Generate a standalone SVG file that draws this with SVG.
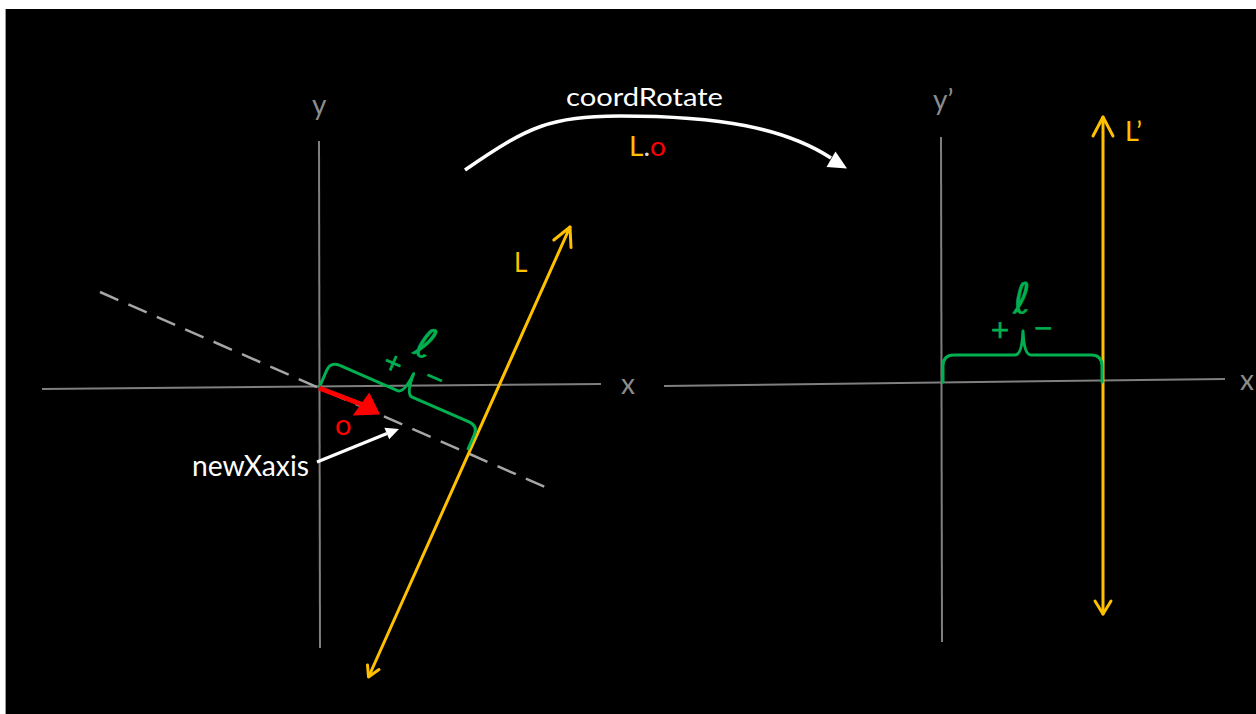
<svg xmlns="http://www.w3.org/2000/svg" width="1256" height="714" viewBox="0 0 1256 714">
<style>
.axis{stroke:#7f7f7f;stroke-width:2;fill:none}
.axlabel{fill:#8c8c8c;font-family:Lato,"Liberation Sans",sans-serif}
.lbl{font-family:Lato,"Liberation Sans",sans-serif}
.yel{stroke:#ffc000;stroke-width:3;fill:none;stroke-linecap:round;stroke-linejoin:round}
.grn{stroke:#00b050;stroke-width:3;fill:none;stroke-linecap:round;stroke-linejoin:round}
.gtxt{fill:#00b050;stroke:#00b050;stroke-width:0.7;font-family:"DejaVu Sans",sans-serif}
.ell{fill:#00b050;stroke:#00b050;stroke-width:0.5;font-family:"DejaVu Sans",sans-serif}
.wht{stroke:#ffffff;fill:none;stroke-linecap:butt}
</style>
<rect x="0" y="0" width="1256" height="714" fill="#ffffff"/>
<rect x="5" y="9" width="1251" height="705" fill="#000000"/>
<line x1="5.5" y1="9" x2="5.5" y2="714" stroke="#9a9a9a" stroke-width="1"/>

<g id="left-axes">
  <line class="axis" x1="319" y1="141" x2="320" y2="648"/>
  <line class="axis" x1="42" y1="389" x2="601" y2="384"/>
  <text class="axlabel" x="312" y="115" font-size="28">y</text>
  <text class="axlabel" x="621" y="394" font-size="28">x</text>
  <line x1="100" y1="292" x2="545" y2="487" stroke="#a6a6a6" stroke-width="2.5" stroke-dasharray="20 11"/>
</g>

<g id="right-axes">
  <line class="axis" x1="941" y1="137" x2="942" y2="642"/>
  <line class="axis" x1="664" y1="386" x2="1225" y2="379"/>
  <text class="axlabel" x="933" y="110" font-size="28">y’</text>
  <text class="axlabel" x="1240" y="390" font-size="28">x</text>
</g>

<g id="line-L">
  <line class="yel" x1="369" y1="676" x2="570" y2="227"/>
  <polyline class="yel" points="553.8,240 570,227 571,247.5"/>
  <polyline class="yel" points="379,669.5 368.5,677 367.5,665"/>
  <text class="lbl" x="514" y="272" font-size="26" fill="#ffc000">L</text>
</g>

<g id="line-Lprime">
  <line class="yel" x1="1103" y1="117" x2="1103" y2="614"/>
  <polyline class="yel" points="1093,136 1103,117 1113,136"/>
  <polyline class="yel" points="1095,601 1103,614 1111,601"/>
  <text class="lbl" x="1125" y="141" font-size="27" fill="#ffc000">L’</text>
</g>

<g id="brace-left" transform="translate(319,388) rotate(23.6)">
  <path class="grn" d="M0,-2 L0,-19 Q0,-29 10,-29 L73,-29 Q80,-29 81,-51 Q82,-29 89,-29 L151,-29 Q161,-29 161,-19 L161,-4"/>
  <text class="gtxt" x="58" y="-45" font-size="24" text-anchor="middle">+</text>
  <text class="gtxt" x="102" y="-48" font-size="24" text-anchor="middle">−</text>
  <text class="ell" x="80" y="-69" font-size="42" text-anchor="middle">ℓ</text>
</g>

<g id="brace-right">
  <path class="grn" d="M943,382 L943,366 Q943,355 954,355 L1015,355 Q1022,355 1023,331 Q1024,355 1031,355 L1091,355 Q1102,355 1102,366 L1102,382"/>
  <text class="gtxt" x="1000" y="338" font-size="24" text-anchor="middle">+</text>
  <text class="gtxt" x="1043" y="336" font-size="24" text-anchor="middle">−</text>
  <text class="ell" x="1022" y="313" font-size="42" text-anchor="middle">ℓ</text>
</g>

<g id="vector-o">
  <line x1="319" y1="388" x2="362" y2="404.5" stroke="#ff0000" stroke-width="5"/>
  <polygon points="380,414.5 352.7,415.5 369.3,392.5" fill="#ff0000"/>
  <text class="lbl" x="335" y="435" font-size="29" fill="#ff0000">o</text>
</g>

<g id="label-newXaxis">
  <text class="lbl" x="192" y="476" font-size="29" fill="#ffffff" textLength="117" lengthAdjust="spacingAndGlyphs">newXaxis</text>
</g>

<g id="label-coordRotate">
  <text class="lbl" x="566" y="106" font-size="25" fill="#ffffff" textLength="157" lengthAdjust="spacingAndGlyphs">coordRotate</text>
  <text class="lbl" x="629" y="156" font-size="27" textLength="37" lengthAdjust="spacingAndGlyphs"><tspan fill="#ffc000">L</tspan><tspan fill="#d9d9d9">.</tspan><tspan fill="#ff0000">o</tspan></text>
</g>

<g id="connectors">
  <path class="wht" stroke-width="3.5" d="M465,170 C530,125 550,117 620,116 C720,116 785,128 831,158"/>
  <polygon points="847,168.5 826.5,167 835.5,151.5" fill="#ffffff"/>
  <line class="wht" stroke-width="3" x1="317" y1="462" x2="387" y2="433.5"/>
  <polygon points="399,429 389.2,439.3 384.4,427.7" fill="#ffffff"/>
</g>
</svg>
